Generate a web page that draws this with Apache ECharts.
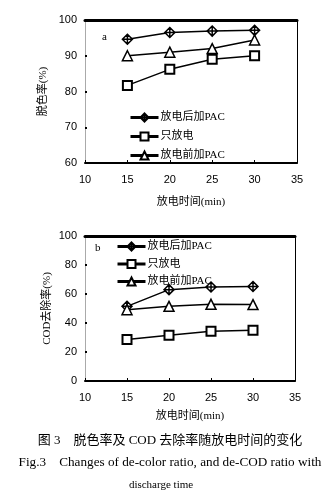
<!DOCTYPE html>
<html>
<head>
<meta charset="utf-8">
<script src="https://cdn.jsdelivr.net/npm/echarts@6/dist/echarts.min.js"></script>
<style>
html,body{margin:0;padding:0;background:#fff;}
#chart{width:335px;height:498px;}
</style>
</head>
<body>
<div id="chart"></div>
<script>
// Discharge time (min)
const times = [15, 20, 25, 30];
const seriesNames = ['放电后加PAC', '只放电', '放电前加PAC'];

// (a) decolorization ratio (%)
const colorAfterPAC = [94.6, 96.5, 96.9, 97.1];
const colorOnly = [81.7, 86.2, 89.0, 90.0];
const colorBeforePAC = [90.0, 91.0, 92.0, 94.4];

// (b) COD removal ratio (%)
const codAfterPAC = [51.5, 63.0, 64.8, 65.2];
const codOnly = [28.6, 31.6, 34.3, 35.0];
const codBeforePAC = [49.2, 51.5, 52.9, 52.7];

const FONT = '"Liberation Serif", "Noto Sans CJK SC", serif';
const NUM_FONT = '"Liberation Sans", Arial, sans-serif';

// diamond with a cross inside, hollow rect, hollow triangle
const symbols = [
  'path://M5,0L10,5L5,10L0,5Z M5,0L5,10 M0,5L10,5',
  'rect',
  'triangle'
];
const symbolSizes = [10, 9, 10];

function pair(xs, ys) { return xs.map((x, i) => [x, ys[i]]); }

function makeSeries(gridIdx, values) {
  return values.map((vals, k) => ({
    name: seriesNames[k],
    type: 'line',
    xAxisIndex: gridIdx * 2,
    yAxisIndex: gridIdx * 2,
    data: pair(times, vals),
    symbol: symbols[k],
    symbolSize: symbolSizes[k],
    showAllSymbol: true,
    lineStyle: { color: '#000', width: 1.5 },
    itemStyle: { color: '#fff', borderColor: '#000', borderWidth: k === 1 ? 2 : 1.5 },
    emphasis: { disabled: true },
    animation: false
  }));
}

function bottomX(gridIdx, gap) {
  return {
    type: 'value', gridIndex: gridIdx, min: 10, max: 35, interval: 5,
    axisLine: { onZero: false, lineStyle: { color: '#000', width: 2 } },
    axisTick: { inside: true, length: 3, lineStyle: { color: '#000' } },
    axisLabel: { margin: 11, color: '#000', fontSize: 11, fontFamily: NUM_FONT },
    splitLine: { show: false },
    name: '放电时间(min)', nameLocation: 'middle', nameGap: gap,
    nameTextStyle: { color: '#000', fontSize: 11, fontFamily: FONT }
  };
}
function topX(gridIdx) {
  return {
    type: 'value', gridIndex: gridIdx, position: 'top', min: 10, max: 35, interval: 5,
    axisLine: { onZero: false, lineStyle: { color: '#000', width: 3 } },
    axisTick: { show: false }, axisLabel: { show: false }, splitLine: { show: false }
  };
}
function leftY(gridIdx, min, max, interval, name, gap) {
  return {
    type: 'value', gridIndex: gridIdx, min, max, interval,
    axisLine: { show: true, onZero: false, lineStyle: { color: '#aaa', width: 1 } },
    axisTick: { show: true, inside: true, length: 2, lineStyle: { color: '#000', width: 2 } },
    axisLabel: { margin: 8, color: '#000', fontSize: 11, fontFamily: NUM_FONT },
    splitLine: { show: false },
    name, nameLocation: 'middle', nameGap: gap, nameRotate: 90, nameMoveOverlap: false,
    nameTextStyle: { color: '#000', fontSize: 11, fontFamily: FONT }
  };
}
function rightY(gridIdx, min, max) {
  return {
    type: 'value', gridIndex: gridIdx, position: 'right', min, max,
    axisLine: { show: true, onZero: false, lineStyle: { color: '#000', width: 1 } },
    axisTick: { show: false }, axisLabel: { show: false }, splitLine: { show: false }
  };
}

function legend(left, top, gap) {
  return {
    data: seriesNames, orient: 'vertical', left, top,
    itemWidth: 28, itemHeight: 10, itemGap: gap,
    selectedMode: false,
    lineStyle: { width: 3, color: '#000' },
    textStyle: { color: '#000', fontSize: 11, fontFamily: FONT, padding: [0, 0, 0, -3] }
  };
}

const chart = echarts.init(document.getElementById('chart'), null, { renderer: 'canvas' });
chart.setOption({
  backgroundColor: '#fff',
  animation: false,
  grid: [
    { left: 85, top: 20, width: 212, height: 143 },
    { left: 85, top: 236, width: 210, height: 145 }
  ],
  xAxis: [bottomX(0, 34), topX(0), bottomX(1, 30), topX(1)],
  yAxis: [
    leftY(0, 60, 100, 10, '脱色率(%)', 36), rightY(0, 60, 100),
    leftY(1, 0, 100, 20, 'COD去除率(%)', 32), rightY(1, 0, 100)
  ],
  legend: [legend(124, 107, 8), legend(111, 236, 6.5)],
  series: [
    ...makeSeries(0, [colorAfterPAC, colorOnly, colorBeforePAC]),
    ...makeSeries(1, [codAfterPAC, codOnly, codBeforePAC])
  ],
  graphic: [
    { type: 'text', left: 102, top: 32, style: { text: 'a', font: '11px ' + FONT, fill: '#000' } },
    { type: 'text', left: 95, top: 243, style: { text: 'b', font: '11px ' + FONT, fill: '#000' } },
    { type: 'text', x: 170, y: 441, style: { text: '图 3    脱色率及 COD 去除率随放电时间的变化', font: '13px ' + FONT, fill: '#000', align: 'center', verticalAlign: 'middle' } },
    { type: 'text', x: 170, y: 463, style: { text: 'Fig.3    Changes of de-color ratio, and de-COD ratio with', font: '13.2px ' + FONT, fill: '#000', align: 'center', verticalAlign: 'middle' } },
    { type: 'text', x: 161, y: 485, style: { text: 'discharge time', font: '11px ' + FONT, fill: '#000', align: 'center', verticalAlign: 'middle' } }
  ]
});
</script>
</body>
</html>
